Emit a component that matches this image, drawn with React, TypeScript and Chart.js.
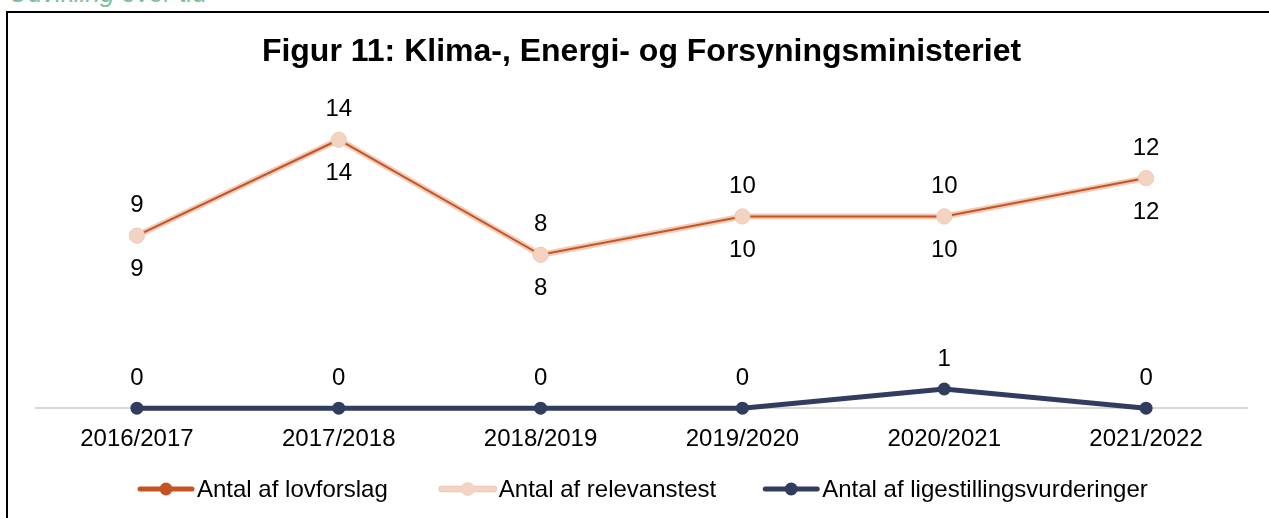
import React, { useEffect, useRef } from "react";
import { Chart, registerables } from "chart.js";

Chart.register(...registerables);

const categories = ["2016/2017", "2017/2018", "2018/2019", "2019/2020", "2020/2021", "2021/2022"];
const lovforslag = [9, 14, 8, 10, 10, 12];
const relevanstest = [9, 14, 8, 10, 10, 12];
const ligestilling = [0, 0, 0, 0, 1, 0];
const seriesNames = ["Antal af lovforslag", "Antal af relevanstest", "Antal af ligestillingsvurderinger"];
const chartTitle = "Figur 11: Klima-, Energi- og Forsyningsministeriet";
const headingText = "Udvikling over tid";
const yMin = 0;
const yMax = 16;

const FONT = '"Liberation Sans", Arial, Helvetica, sans-serif';
const ORANGE = "#c65324";
const PEACH = "#f3d4c3";
const PEACH_EDGE = "#ecc0a9";
const NAVY = "#313c5f";

const labelPlugin = {
  id: "valueLabels",
  afterDatasetsDraw(chart: any) {
    const ctx = chart.ctx;
    // redraw peach markers on top of the dark orange line
    const peachMeta = chart.getDatasetMeta(1);
    peachMeta.data.forEach((el: any) => el.draw(ctx));
    ctx.save();
    ctx.font = `24px ${FONT}`;
    ctx.fillStyle = "#000";
    ctx.textAlign = "center";
    ctx.textBaseline = "middle";
    chart.data.datasets.forEach((ds: any, i: number) => {
      const meta = chart.getDatasetMeta(i);
      meta.data.forEach((pt: any, j: number) => {
        const v = ds.data[j];
        const dy = i === 1 ? 34 : -30;
        ctx.fillText(String(v), pt.x, pt.y + dy);
      });
    });
    ctx.restore();
  },
};

const legendPlugin = {
  id: "customLegend",
  afterDraw(chart: any) {
    const ctx = chart.ctx;
    const y = 476;
    const styles = [
      { line: ORANGE, lineW: 5, edge: null as string | null, dot: ORANGE, r: 6.5 },
      { line: PEACH, lineW: 5, edge: PEACH_EDGE, dot: PEACH, r: 7 },
      { line: NAVY, lineW: 5, edge: null as string | null, dot: NAVY, r: 6.5 },
    ];
    ctx.save();
    ctx.font = `24px ${FONT}`;
    ctx.textBaseline = "middle";
    ctx.textAlign = "left";
    let x = 130;
    const gaps = [52, 47];
    seriesNames.forEach((name, i) => {
      const s = styles[i];
      const len = 56;
      ctx.lineCap = "round";
      if (s.edge) {
        ctx.strokeStyle = s.edge;
        ctx.lineWidth = s.lineW + 1.5;
        ctx.beginPath();
        ctx.moveTo(x + 2, y);
        ctx.lineTo(x + len - 2, y);
        ctx.stroke();
      }
      ctx.strokeStyle = s.line;
      ctx.lineWidth = s.lineW;
      ctx.beginPath();
      ctx.moveTo(x + 2, y);
      ctx.lineTo(x + len - 2, y);
      ctx.stroke();
      ctx.fillStyle = s.dot;
      ctx.beginPath();
      ctx.arc(x + len / 2, y, s.r, 0, Math.PI * 2);
      ctx.fill();
      ctx.fillStyle = "#000";
      const tx = x + len + 3;
      ctx.fillText(name, tx, y + 1);
      const w = ctx.measureText(name).width;
      x = tx + w + (gaps[i] ?? 50);
    });
    ctx.restore();
  },
};

export default function App() {
  const ref = useRef<HTMLCanvasElement>(null);
  useEffect(() => {
    if (!ref.current) return;
    const chart = new Chart(ref.current, {
      type: "line",
      data: {
        labels: categories,
        datasets: [
          {
            label: seriesNames[0],
            data: lovforslag,
            borderColor: ORANGE,
            borderWidth: 2,
            pointRadius: 0,
            tension: 0,
            clip: false,
          },
          {
            label: seriesNames[1],
            data: relevanstest,
            borderColor: "#f0cbb8",
            borderWidth: 6,
            pointRadius: 7.5,
            pointBackgroundColor: PEACH,
            pointBorderColor: "#f0cdbb",
            pointBorderWidth: 1,
            tension: 0,
            clip: false,
          },
          {
            label: seriesNames[2],
            data: ligestilling,
            borderColor: NAVY,
            borderWidth: 5,
            pointRadius: 6.5,
            pointBackgroundColor: NAVY,
            pointBorderColor: NAVY,
            pointBorderWidth: 0,
            tension: 0,
            clip: false,
          },
        ],
      },
      options: {
        responsive: false,
        animation: false,
        devicePixelRatio: 1,
        events: [],
        layout: { padding: { left: 28, right: 29, top: 0, bottom: 47 } },
        plugins: {
          legend: { display: false },
          tooltip: { enabled: false },
          title: {
            display: true,
            text: chartTitle,
            color: "#000",
            font: { size: 32, weight: "bold", family: FONT },
            padding: { top: 20, bottom: 30 },
          },
        },
        scales: {
          x: {
            offset: true,
            grid: { display: false, drawTicks: false },
            border: { display: true, color: "#d9d9d9", width: 2 },
            ticks: {
              color: "#000",
              font: { size: 24, family: FONT },
              padding: 17,
              maxRotation: 0,
              autoSkip: false,
            },
          },
          y: { display: false, min: yMin, max: yMax },
        },
      },
      plugins: [labelPlugin, legendPlugin],
    } as any);
    return () => chart.destroy();
  }, []);

  return (
    <div style={{ position: "absolute", left: 0, top: 0, width: 1269, height: 518, overflow: "hidden", background: "#fff" }}>
      <div
        style={{
          position: "absolute",
          left: 9,
          top: -21,
          color: "#7fbf9c",
          font: `italic 26px ${FONT}`,
          lineHeight: "28px",
          whiteSpace: "nowrap",
        }}
      >
        {headingText}
      </div>
      <div
        style={{
          position: "absolute",
          left: 6,
          top: 11,
          width: 1270,
          height: 520,
          border: "2px solid #000",
        }}
      >
        <canvas ref={ref} width={1268} height={505} style={{ display: "block" }} />
      </div>
    </div>
  );
}
